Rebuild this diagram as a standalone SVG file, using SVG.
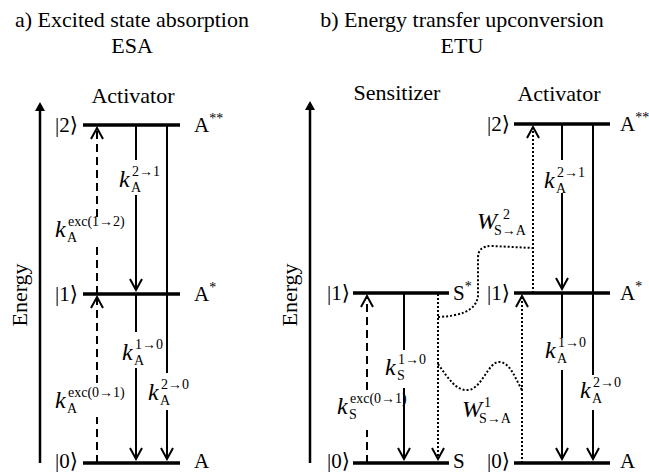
<svg xmlns="http://www.w3.org/2000/svg" width="649" height="472" viewBox="0 0 649 472" font-family="Liberation Serif, Times New Roman, DejaVu Serif, serif">
<style>
text{font-family:'Liberation Serif','Times New Roman','DejaVu Serif',serif;fill:#000}
.ti{font-size:22px}
.lb{font-size:21px}
.k{font-size:24px;font-style:italic}
.s{font-size:14px}
.lvl{stroke:#000;stroke-width:3.5;fill:none}
.ax{stroke:#000;stroke-width:2.5;fill:none}
.ln{stroke:#000;stroke-width:2;fill:none}
.da{stroke-dasharray:8 5}
.do{stroke-dasharray:2 2}
.ar{marker-end:url(#ah)}
</style>
<defs>
<marker id="ah" viewBox="-12 -7 14 14" refX="0" refY="0" markerWidth="14" markerHeight="14" markerUnits="userSpaceOnUse" orient="auto">
<path d="M-11,-6 L0,0 L-11,6" fill="none" stroke="#000" stroke-width="2"/>
</marker>
</defs>
<rect width="649" height="472" fill="#fff"/>
<g id="titles">
<text class="ti" x="132" y="27" text-anchor="middle">a) Excited state absorption</text>
<text class="ti" x="132" y="53" text-anchor="middle">ESA</text>
<text class="ti" x="462" y="27" text-anchor="middle">b) Energy transfer upconversion</text>
<text class="ti" x="462" y="53" text-anchor="middle">ETU</text>
</g>
<g id="axis-a">
<line class="ax" x1="40" y1="463" x2="40" y2="108"/>
<path d="M40,102 L35,111 L45,111 Z" fill="#000"/>
<text class="ti" transform="translate(27,295) rotate(-90)" text-anchor="middle">Energy</text>
</g>
<g id="axis-b">
<line class="ax" x1="310" y1="463" x2="310" y2="107"/>
<path d="M310,101 L305,110 L315,110 Z" fill="#000"/>
<text class="ti" transform="translate(297,295) rotate(-90)" text-anchor="middle">Energy</text>
</g>
<g id="headers">
<text class="ti" x="133" y="103" text-anchor="middle">Activator</text>
<text class="ti" x="397" y="100" text-anchor="middle">Sensitizer</text>
<text class="ti" x="559" y="101" text-anchor="middle">Activator</text>
</g>
<g id="esa-A2">
<line class="lvl" x1="83" y1="125" x2="180" y2="125"/>
<text class="lb" x="55" y="132">|2⟩</text>
<text class="lb" x="194" y="132">A<tspan class="s" dy="-9">**</tspan></text>
</g>
<g id="esa-A1">
<line class="lvl" x1="83" y1="294" x2="180" y2="294"/>
<text class="lb" x="55" y="301">|1⟩</text>
<text class="lb" x="194" y="301">A<tspan class="s" dy="-9">*</tspan></text>
</g>
<g id="esa-A0">
<line class="lvl" x1="83" y1="463" x2="180" y2="463"/>
<text class="lb" x="55" y="468">|0⟩</text>
<text class="lb" x="194" y="468">A</text>
</g>
<g id="etu-S1">
<line class="lvl" x1="353" y1="293" x2="449" y2="293"/>
<text class="lb" x="327" y="300">|1⟩</text>
<text class="lb" x="453" y="300">S<tspan class="s" dy="-9">*</tspan></text>
</g>
<g id="etu-S0">
<line class="lvl" x1="353" y1="463" x2="449" y2="463"/>
<text class="lb" x="327" y="468">|0⟩</text>
<text class="lb" x="453" y="468">S</text>
</g>
<g id="etu-A2">
<line class="lvl" x1="514" y1="124" x2="610" y2="124"/>
<text class="lb" x="487" y="131">|2⟩</text>
<text class="lb" x="620" y="131">A<tspan class="s" dy="-9">**</tspan></text>
</g>
<g id="etu-A1">
<line class="lvl" x1="514" y1="293" x2="610" y2="293"/>
<text class="lb" x="487" y="300">|1⟩</text>
<text class="lb" x="620" y="300">A<tspan class="s" dy="-9">*</tspan></text>
</g>
<g id="etu-A0">
<line class="lvl" x1="514" y1="463" x2="610" y2="463"/>
<text class="lb" x="487" y="468">|0⟩</text>
<text class="lb" x="620" y="468">A</text>
</g>
<g id="connectors">
<path class="ln da" d="M97,463 L97,417"/>
<path class="ln da ar" d="M97,383 L97,297"/>
<path class="ln da" d="M97,294 L97,247"/>
<path class="ln da ar" d="M97,217 L97,128"/>
<path class="ln" d="M136,125 L136,160"/>
<path class="ln ar" d="M136,195 L136,290"/>
<path class="ln" d="M136,294 L136,332"/>
<path class="ln ar" d="M136,368 L136,459"/>
<path class="ln" d="M167,125 L167,373"/>
<path class="ln ar" d="M167,410 L167,459"/>
<path class="ln da" d="M367,463 L367,430"/>
<path class="ln da ar" d="M367,390 L367,296"/>
<path class="ln" d="M404,293 L404,350"/>
<path class="ln ar" d="M404,388 L404,459"/>
<path class="ln do ar" d="M438,294 L438,459"/>
<path class="ln do ar" d="M522,463 L522,296"/>
<path class="ln do ar" d="M533,293 L533,127"/>
<path class="ln" d="M562,124 L562,160"/>
<path class="ln ar" d="M562,193 L562,289"/>
<path class="ln" d="M562,293 L562,338"/>
<path class="ln ar" d="M562,370 L562,459"/>
<path class="ln" d="M593,124 L593,375"/>
<path class="ln ar" d="M593,410 L593,459"/>
<path class="ln do" d="M438,317 C458,316 476,312 478,296 L478,258 C478,250 482,246 492,246 L533,248"/>
<path class="ln do" d="M438,364 C448,378 456,391 468,390 C482,389 488,362 499,362 C510,362 515,378 522,390"/>
</g>
<g id="rate-labels">
<text class="k" x="119" y="187">k</text><text class="s" x="132" y="176">2→1</text><text class="s" x="131" y="192">A</text>
<text class="k" x="55" y="237">k</text><text class="s" x="68" y="226">exc(1→2)</text><text class="s" x="67" y="242">A</text>
<text class="k" x="122" y="360">k</text><text class="s" x="135" y="349">1→0</text><text class="s" x="134" y="365">A</text>
<text class="k" x="55" y="408">k</text><text class="s" x="68" y="397">exc(0→1)</text><text class="s" x="67" y="413">A</text>
<text class="k" x="148" y="400">k</text><text class="s" x="161" y="389">2→0</text><text class="s" x="160" y="405">A</text>
<text class="k" x="337" y="414">k</text><text class="s" x="350" y="403">exc(0→1)</text><text class="s" x="349" y="419">S</text>
<text class="k" x="385" y="375">k</text><text class="s" x="398" y="364">1→0</text><text class="s" x="397" y="380">S</text>
<text class="k" x="544" y="188">k</text><text class="s" x="557" y="177">2→1</text><text class="s" x="556" y="193">A</text>
<text class="k" x="545" y="358">k</text><text class="s" x="558" y="347">1→0</text><text class="s" x="557" y="363">A</text>
<text class="k" x="580" y="398">k</text><text class="s" x="593" y="387">2→0</text><text class="s" x="592" y="403">A</text>
<text class="k" x="477" y="229">W</text><text class="s" x="503" y="219">2</text><text class="s" x="494" y="235">S→A</text>
<text class="k" x="462" y="417">W</text><text class="s" x="484" y="407">1</text><text class="s" x="479" y="423">S→A</text>
</g>
</svg>
